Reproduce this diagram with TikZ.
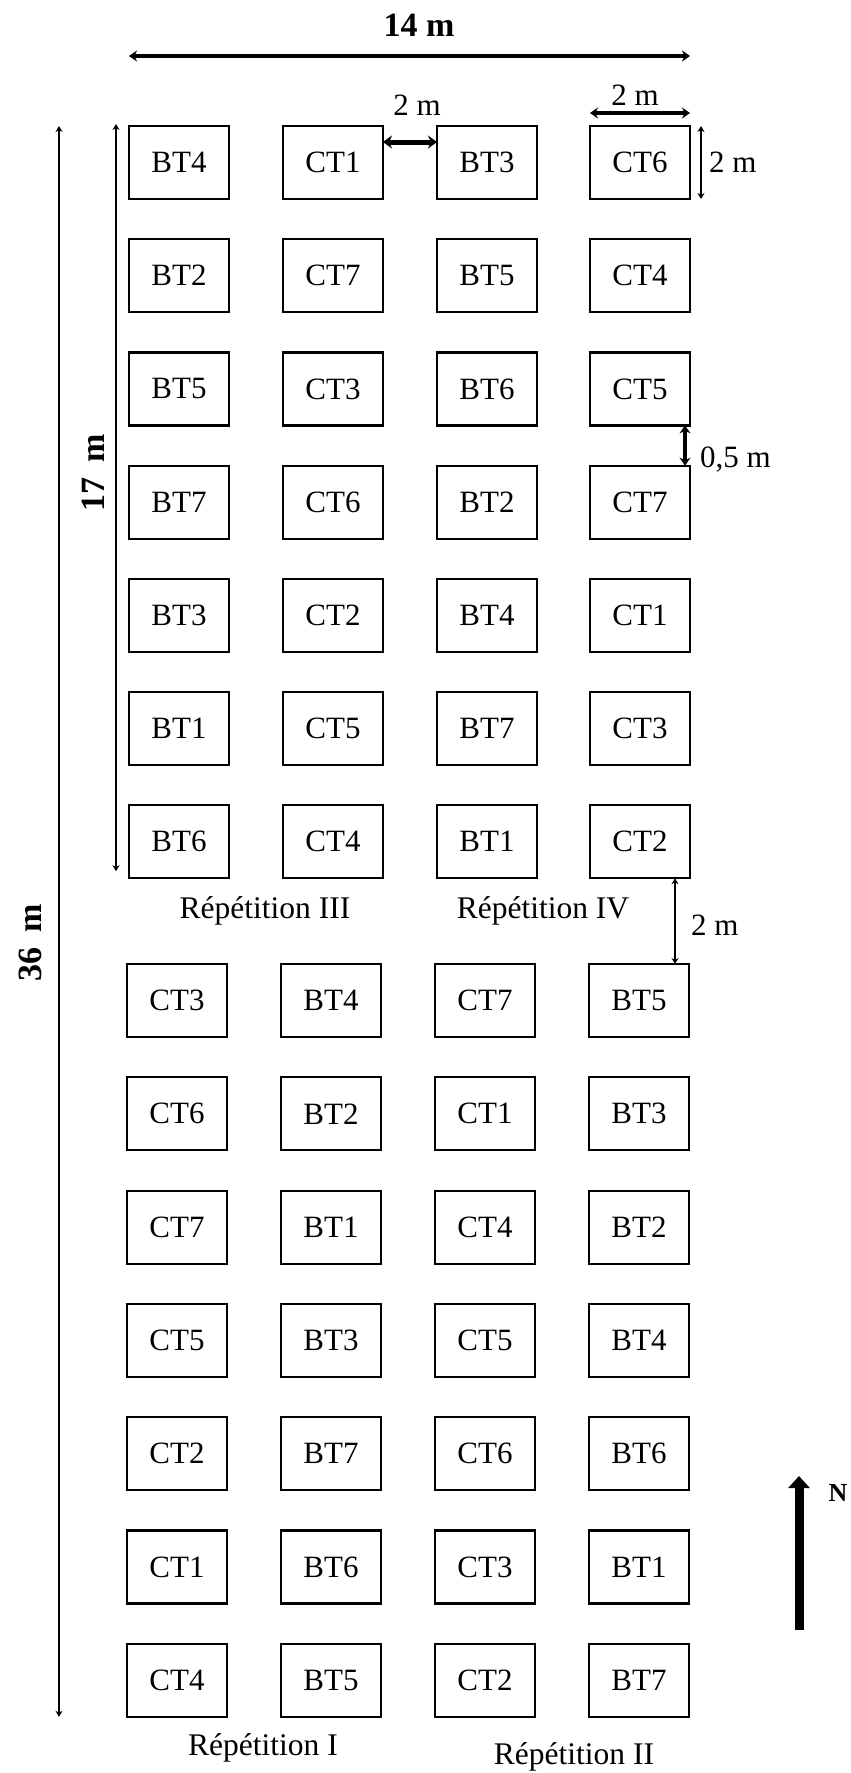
\documentclass[tikz,border=0pt]{standalone}
\usepackage{fontspec}
\setmainfont{Liberation Serif}
\usetikzlibrary{arrows.meta,calc}
\tikzset{
  plot/.style={draw, line width=2.2pt, minimum width=100pt, minimum height=73pt, inner sep=0pt, outer sep=0pt, font=\fontsize{31}{35}\selectfont},
  lbl/.style={font=\fontsize{31}{35}\selectfont, inner sep=0pt},
  rep/.style={font=\fontsize{31.5}{35}\selectfont, inner sep=0pt},
  big/.style={font=\fontsize{34}{38}\selectfont\bfseries, inner sep=0pt},
  dimthick/.style={line width=5pt, {Stealth[length=9pt,width=13pt]}-{Stealth[length=9pt,width=13pt]}},
  dimmid/.style={line width=3.5pt, {Stealth[length=8pt,width=11pt]}-{Stealth[length=8pt,width=11pt]}},
  dimthin/.style={line width=2.5pt, {Stealth[length=6pt,width=7pt]}-{Stealth[length=6pt,width=7pt]}}
}
\begin{document}
\begin{tikzpicture}[x=1pt,y=-1pt]
\useasboundingbox (0,0) rectangle (851,1773);
% top block (Repetitions III and IV)
\foreach \r/\a/\b/\c/\d in {1/BT4/CT1/BT3/CT6, 2/BT2/CT7/BT5/CT4, 3/BT5/CT3/BT6/CT5, 4/BT7/CT6/BT2/CT7, 5/BT3/CT2/BT4/CT1, 6/BT1/CT5/BT7/CT3, 7/BT6/CT4/BT1/CT2}{
  \pgfmathsetmacro{\yy}{162.5+113.2*(\r-1)}
  \node[plot] (t\r1) at (179,\yy) {\a};
  \node[plot] (t\r2) at (333,\yy) {\b};
  \node[plot] (t\r3) at (487,\yy) {\c};
  \node[plot] (t\r4) at (640,\yy) {\d};
}
% bottom block (Repetitions I and II)
\foreach \r/\a/\b/\c/\d in {1/CT3/BT4/CT7/BT5, 2/CT6/BT2/CT1/BT3, 3/CT7/BT1/CT4/BT2, 4/CT5/BT3/CT5/BT4, 5/CT2/BT7/CT6/BT6, 6/CT1/BT6/CT3/BT1, 7/CT4/BT5/CT2/BT7}{
  \pgfmathsetmacro{\yy}{1000.5+113.3*(\r-1)}
  \node[plot] (b\r1) at (177,\yy) {\a};
  \node[plot] (b\r2) at (331,\yy) {\b};
  \node[plot] (b\r3) at (485,\yy) {\c};
  \node[plot] (b\r4) at (639,\yy) {\d};
}
% 14 m
\coordinate (w14a) at ($(t11.north west)+(0,-70)$);
\coordinate (w14b) at ($(t14.north east)+(0,-70)$);
\draw[dimmid] (w14a) -- (w14b);
\node[big] (l14) at (419,25) {14 m};
% 2 m between CT1 and BT3
\draw[dimthick] ([yshift=-16pt]t12.north east) -- ([yshift=-16pt]t13.north west);
\node[lbl] (l2a) at (417,105) {2 m};
% 2 m above CT6
\draw[dimmid] ([yshift=13pt]t14.north west) -- ([yshift=13pt]t14.north east);
\node[lbl] (l2b) at (635,95) {2 m};
% 2 m right of CT6
\draw[dimthin] ([xshift=11pt]t14.north east) -- ([xshift=11pt]t14.south east);
\node[lbl,anchor=west] (l2c) at (709,162) {2 m};
% 0,5 m
\draw[dimmid] ([xshift=-5pt]t34.south east) -- ([xshift=-5pt]t44.north east);
\node[lbl,anchor=west] (l05) at (700,460) {0,5 m};
% 2 m between blocks
\coordinate (g1) at ([xshift=-15pt]t74.south east);
\coordinate (g2) at (g1 |- b14.north);
\draw[dimthin] (g1) -- (g2);
\node[lbl,anchor=west] (l2d) at (691,925) {2 m};
% 17 m
\coordinate (s1) at ([xshift=-13pt,yshift=2pt]t11.north west);
\coordinate (s2) at ([yshift=7pt]s1 |- t71.south);
\draw[dimthin] (s1) -- (s2);
\node[big,rotate=90] (l17) at (93,473) {17\hspace{0.45em}m};
% 36 m
\coordinate (m1) at ([xshift=-70pt]t11.north west);
\coordinate (m2) at (m1 |- b71.south);
\draw[dimthin] (m1) -- (m2);
\node[big,rotate=90] (l36) at (30,943) {36\hspace{0.45em}m};
% repetition labels
\node[rep] (r3) at (265,911) {Répétition III};
\node[rep] (r4) at (543,911) {Répétition IV};
\node[rep] (r1) at (263,1748) {Répétition I};
\node[rep] (r2) at (574,1757) {Répétition II};
% north arrow
\coordinate (nb) at (799,1630);
\coordinate (nt) at (799,1476);
\draw[line width=9pt, -{Triangle[length=12pt,width=21pt]}] (nb) -- (nt);
\node[font=\fontsize{26}{30}\selectfont\bfseries, inner sep=0pt] (nn) at (838,1493) {N};
\end{tikzpicture}
\end{document}
